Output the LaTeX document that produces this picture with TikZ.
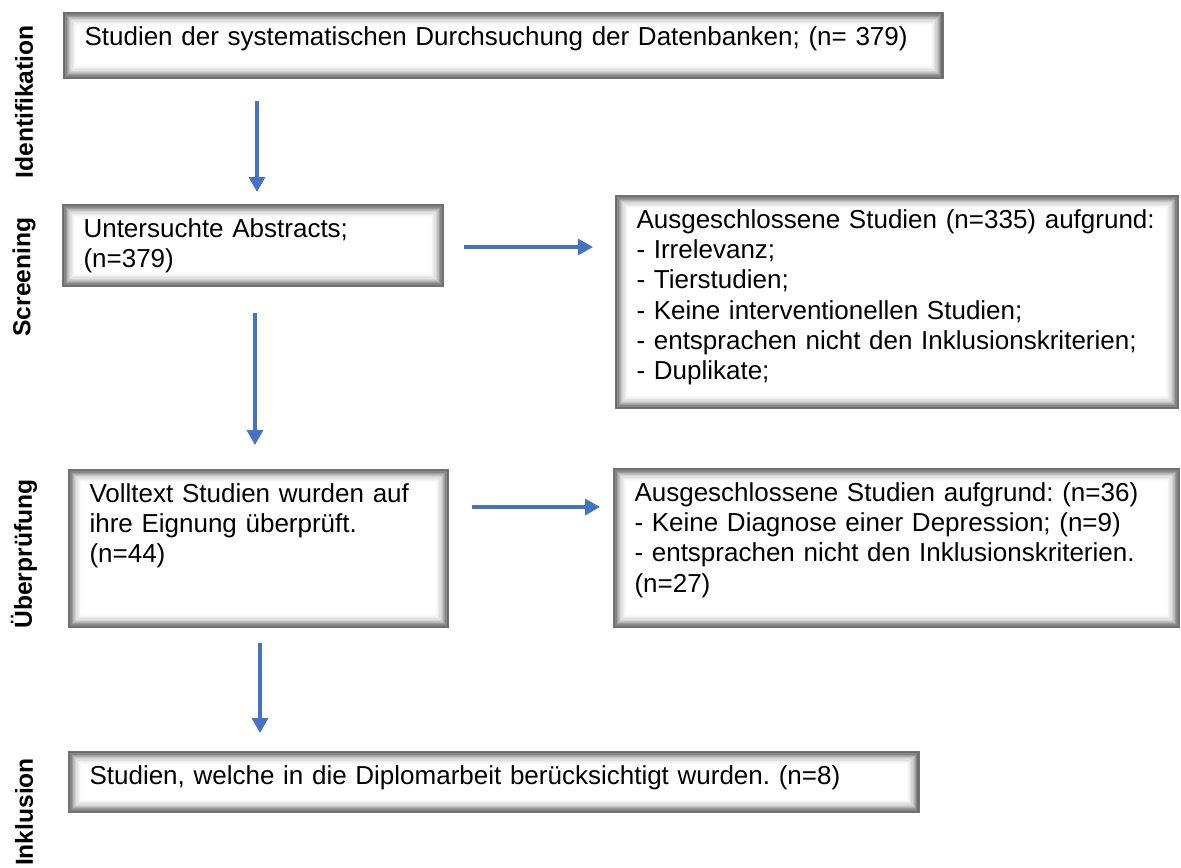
\documentclass[tikz,border=0pt]{standalone}
\usepackage{fontspec}
\setmainfont{Liberation Sans}
\usetikzlibrary{arrows.meta,backgrounds}
\definecolor{flowblue}{HTML}{4472C4}
\frenchspacing

% soft inner shadow along the inside of a box node
\newcommand\innershade[1]{%
  \foreach \k in {1,...,12}{%
    \pgfmathsetmacro\op{0.8*(1-\k/13)^2}%
    \draw[black, opacity=\op, line width=0.024cm]
      ([xshift=\k*0.024cm-0.012cm, yshift=-\k*0.024cm+0.012cm]#1.north west) rectangle
      ([xshift=-\k*0.024cm+0.012cm, yshift=\k*0.024cm-0.012cm]#1.south east);}}

\begin{document}
\begin{tikzpicture}[x=0.02cm, y=-0.02cm,
  box/.style={draw=black!55, line width=0.6pt, anchor=north west, align=left,
    inner xsep=0.42cm, inner ysep=0.28cm, text height=0.38cm,
    font={\fontsize{14.8pt}{17.2pt}\selectfont\hyphenpenalty=10000\relax}},
  phase/.style={rotate=90, font=\bfseries\fontsize{14pt}{16pt}\selectfont},
  flow/.style={draw=flowblue, line width=1.9pt, -{Triangle[length=0.3cm,width=0.32cm]}}]
\useasboundingbox (0,0) rectangle (1181,868);

% phases
\node[phase] (pid) at (24,102) {Identifikation};
\node[phase] (psc) at (24,277) {Screening};
\node[phase] (pue) at (24,554) {Überprüfung};
\node[phase] (pin) at (24,812) {Inklusion};

% boxes
\node[box, text width=16.76cm, text depth=0.38cm] (search) at (63,12)
  {Studien der systematischen Durchsuchung der Datenbanken; (n= 379)};
\node[box, text width=6.78cm, text depth=0.70cm] (abstr) at (62,204)
  {Untersuchte Abstracts;\\(n=379)};
\node[box, text width=10.42cm, text depth=3.32cm] (excla) at (615,195)
  {Ausgeschlossene Studien (n=335) aufgrund:\\
   - Irrelevanz;\\
   - Tierstudien;\\
   - Keine interventionellen Studien;\\
   - entsprachen nicht den Inklusionskriterien;\\
   - Duplikate;};
\node[box, text width=6.76cm, text depth=2.22cm] (full) at (68,469)
  {Volltext Studien wurden auf\\ihre Eignung überprüft.\\(n=44)};
\node[box, text width=10.48cm, text depth=2.24cm] (exclb) at (613,468)
  {Ausgeschlossene Studien aufgrund: (n=36)\\
   - Keine Diagnose einer Depression; (n=9)\\
   - entsprachen nicht den Inklusionskriterien.\\
   (n=27)};
\node[box, text width=16.18cm, text depth=0.28cm] (incl) at (68,751)
  {Studien, welche in die Diplomarbeit berücksichtigt wurden. (n=8)};

\begin{scope}[on background layer]
\innershade{search}
\innershade{abstr}
\innershade{excla}
\innershade{full}
\innershade{exclb}
\innershade{incl}
\end{scope}

% arrows
\draw[flow, shorten <=0.44cm, shorten >=0.24cm] (search.south -| 257,0) -- (abstr.north -| 257,0);
\draw[flow, shorten <=0.4cm, shorten >=0.44cm] (abstr.east |- 0,247) -- (excla.west |- 0,247);
\draw[flow, shorten <=0.52cm, shorten >=0.48cm] (abstr.south -| 255,0) -- (full.north -| 255,0);
\draw[flow, shorten <=0.46cm, shorten >=0.26cm] (full.east |- 0,507) -- (exclb.west |- 0,507);
\draw[flow, shorten <=0.3cm, shorten >=0.36cm] (full.south -| 260,0) -- (incl.north -| 260,0);
\end{tikzpicture}
\end{document}
